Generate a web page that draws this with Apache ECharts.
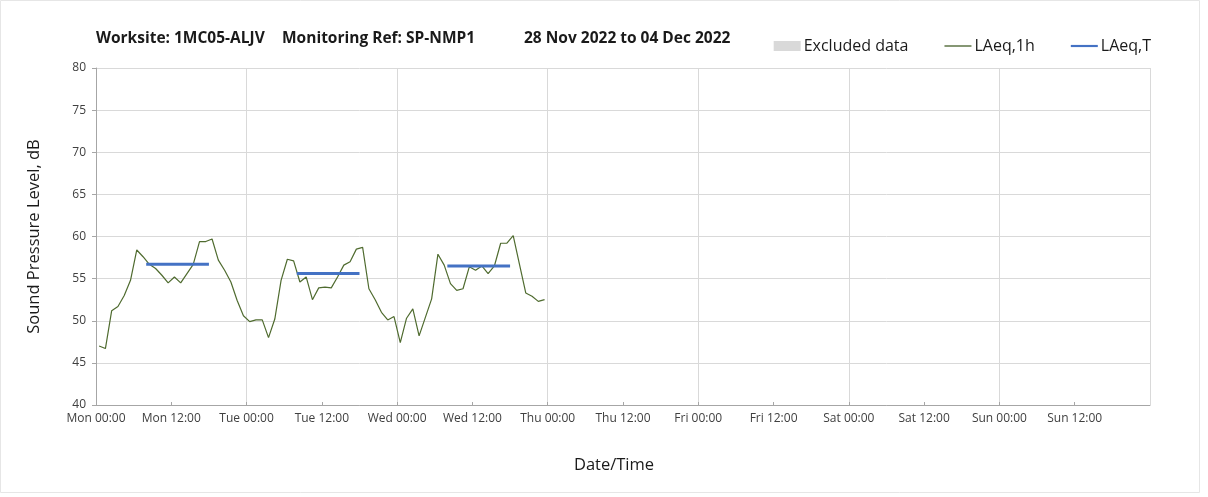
<!DOCTYPE html>
<html>
<head>
<meta charset="utf-8">
<title>SP-NMP1 noise monitoring</title>
<script src="https://cdn.jsdelivr.net/npm/echarts@6/dist/echarts.min.js"></script>
<style>
  html, body { margin: 0; padding: 0; background: #fff; }
  #chart { width: 1208px; height: 497px; }
</style>
</head>
<body>
<div id="chart"></div>
<script>
// Etiquetas de los dias para el eje X (cada 12 horas)
const dias = ['Mon', 'Tue', 'Wed', 'Thu', 'Fri', 'Sat', 'Sun'];

// Partes del titulo
const titulo = ['Worksite: 1MC05-ALJV', 'Monitoring Ref: SP-NMP1', '28 Nov 2022 to 04 Dec 2022'];

// LAeq,1h - un valor por hora desde Mon 00:00
const laeq1h = [
  47.0, 46.7, 51.2, 51.7, 53.0, 54.8, 58.4, 57.6, 56.7, 56.2, 55.4, 54.5,
  55.2, 54.5, 55.6, 56.7, 59.4, 59.4, 59.7, 57.2, 56.0, 54.6, 52.4, 50.6,
  49.9, 50.1, 50.1, 48.0, 50.2, 54.8, 57.3, 57.1, 54.6, 55.2, 52.5, 53.9,
  54.0, 53.9, 55.2, 56.6, 57.0, 58.5, 58.7, 53.8, 52.5, 51.0, 50.1, 50.5,
  47.4, 50.3, 51.4, 48.2, 50.4, 52.6, 57.9, 56.6, 54.4, 53.6, 53.8, 56.4,
  56.0, 56.5, 55.6, 56.5, 59.2, 59.2, 60.1, 56.7, 53.3, 52.9, 52.3, 52.5
];

// LAeq,T - periodos diurnos (hora inicio, hora fin, valor)
const periodosInicio = [8, 32, 56];
const periodosFin = [18, 42, 66];
const laeqT = [56.7, 55.6, 56.5];

const fuente = '"Open Sans", "Noto Sans", sans-serif';
const gris = '#404040';

const myChart = echarts.init(document.getElementById('chart'));

// Serie por hora (centrada en la media hora)
const datosHora = laeq1h.map((v, i) => [i + 0.5, v]);

// Una serie por cada periodo de LAeq,T
const seriesT = laeqT.map((v, i) => ({
  name: 'LAeq,T',
  type: 'line',
  xAxisIndex: 0,
  data: [[periodosInicio[i], v], [periodosFin[i], v]],
  showSymbol: false,
  symbol: 'none',
  lineStyle: { color: '#4472C4', width: 3 },
  itemStyle: { color: '#4472C4' },
  z: 5
}));

// Posiciones de cada parte del titulo
const posTitulo = [96, 282, 524];

const option = {
  animation: false,
  textStyle: { fontFamily: fuente },
  graphic: [{
    type: 'rect',
    shape: { x: 0.5, y: 0.5, width: 1199, height: 492 },
    style: { fill: 'none', stroke: '#e6e6e6', lineWidth: 1 },
    silent: true
  }].concat(titulo.map((t, i) => ({
    type: 'text',
    left: posTitulo[i],
    top: 31,
    style: {
      text: t,
      font: 'bold 15.5px ' + fuente,
      fill: '#1a1a1a'
    },
    silent: true
  }))),
  legend: {
    right: 52,
    top: 33,
    itemGap: 36,
    itemWidth: 27,
    itemHeight: 10,
    textStyle: { fontFamily: fuente, fontSize: 16, color: '#1a1a1a', padding: [0, 0, 0, -2] },
    data: [
      { name: 'Excluded data', icon: 'rect', itemStyle: { color: '#d9d9d9' } },
      { name: 'LAeq,1h', icon: 'path://M0,4.3H30V5.7H0Z', itemStyle: { color: '#3f5a22' } },
      { name: 'LAeq,T', icon: 'path://M0,3.8H30V6.2H0Z', itemStyle: { color: '#4472C4' } }
    ]
  },
  grid: { left: 96, right: 58, top: 68, bottom: 92 },
  xAxis: [{
    type: 'value',
    min: 0,
    max: 168,
    interval: 12,
    name: 'Date/Time',
    nameLocation: 'middle',
    nameGap: 52,
    nameTextStyle: { fontSize: 16.5, color: '#1a1a1a', padding: [0, 18, 0, 0] },
    axisLine: { show: true, onZero: false, lineStyle: { color: '#a6a6a6' } },
    axisTick: { show: true, inside: true, length: 3, lineStyle: { color: '#a6a6a6' } },
    splitLine: { show: false },
    axisLabel: {
      fontSize: 12,
      color: gris,
      margin: 8,
      showMaxLabel: false,
      formatter: function (v) {
        const d = Math.floor(v / 24);
        const h = v % 24;
        return dias[d % 7] + ' ' + (h === 0 ? '00:00' : '12:00');
      }
    }
  }, {
    type: 'value',
    min: 0,
    max: 168,
    interval: 24,
    position: 'bottom',
    axisLine: { show: false },
    axisTick: { show: false },
    axisLabel: { show: false },
    splitLine: { show: true, lineStyle: { color: '#d9d9d9', width: 1 } }
  }],
  yAxis: {
    type: 'value',
    min: 40,
    max: 80,
    interval: 5,
    name: 'Sound Pressure Level, dB',
    nameLocation: 'middle',
    nameGap: 53,
    nameTextStyle: { fontSize: 16.5, color: '#1a1a1a' },
    axisLine: { show: true, lineStyle: { color: '#a6a6a6' } },
    axisTick: { show: true, length: 4, lineStyle: { color: '#a6a6a6' } },
    axisLabel: { fontSize: 12, color: gris, margin: 10 },
    splitLine: { show: true, lineStyle: { color: '#d9d9d9', width: 1 } }
  },
  series: [
    {
      name: 'Excluded data',
      type: 'bar',
      xAxisIndex: 0,
      data: [],
      itemStyle: { color: '#d9d9d9' }
    },
    {
      name: 'LAeq,1h',
      type: 'line',
      xAxisIndex: 0,
      data: datosHora,
      showSymbol: false,
      symbol: 'none',
      lineStyle: { color: '#4f6b2f', width: 1.2 },
      itemStyle: { color: '#4f6b2f' },
      z: 4
    }
  ].concat(seriesT)
};

myChart.setOption(option);
</script>
</body>
</html>
